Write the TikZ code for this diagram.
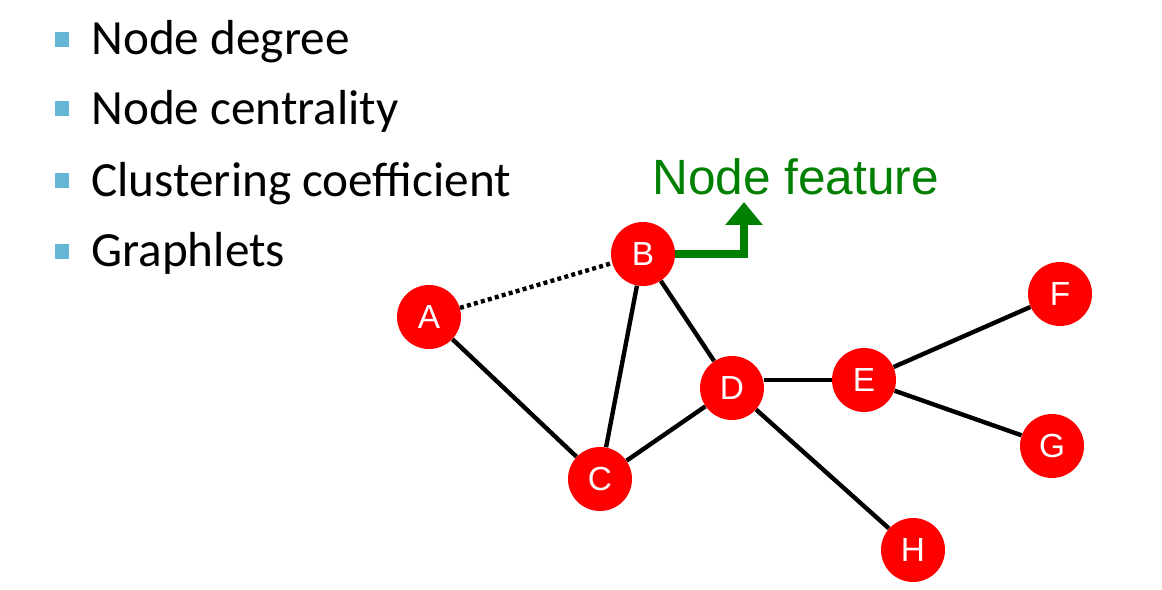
\documentclass[tikz,border=0pt]{standalone}
\usepackage{fontspec}
\setmainfont{Liberation Sans}
\newfontfamily\bulletfont{Carlito}
\usetikzlibrary{arrows.meta,positioning}

\begin{document}
\begin{tikzpicture}[x=0.02cm,y=-0.02cm,
  vertex/.style={circle,fill=red,draw=none,minimum size=1.28cm,inner sep=0pt,text=white,font=\fontsize{19}{19}\selectfont},
  edge/.style={line width=2.5pt,black},
  bul/.style={fill=cyan!55!teal!70,minimum size=0.3cm,inner sep=0pt},
  item/.style={anchor=base west,inner sep=0pt,font=\bulletfont\fontsize{28}{28}\selectfont}]
\useasboundingbox (0,0) rectangle (1162,590);
% bullet list
\node[bul] (b1) at (62,40) {};
\node[bul] (b2) at (62,109) {};
\node[bul] (b3) at (62,181) {};
\node[bul] (b4) at (62,252) {};
\node[item] (t1) at (91,55) {Node degree};
\node[item] (t2) at (91,125) {Node centrality};
\node[item] (t3) at (91,197) {Clustering coefficient};
\node[item] (t4) at (91,267) {Graphlets};
% graph
\node[vertex] (A) at (429,317) {A};
\node[vertex] (B) at (643,254) {B};
\node[vertex] (C) at (600,479) {C};
\node[vertex] (D) at (732,388) {D};
\node[vertex] (E) at (864,380) {E};
\node[vertex] (F) at (1060,294) {F};
\node[vertex] (G) at (1052,446) {G};
\node[vertex] (H) at (913,550) {H};
\draw[edge,dash pattern=on 0.08cm off 0.065cm] (A) -- (B);
\draw[edge] (A) -- (C);
\draw[edge] (B) -- (C);
\draw[edge] (B) -- (D);
\draw[edge] (C) -- (D);
\draw[edge] (E.west) -- (E.west -| D.east);
\draw[edge] (D) -- (H);
\draw[edge] (E) -- (F);
\draw[edge] (E) -- (G);
% feature label
\node[anchor=base west,inner sep=0pt,text={rgb,255:red,0;green,128;blue,0},font=\fontsize{28.2}{28}\selectfont] (feat) at (652,195) {Node feature};
\coordinate (tip) at (744,202);
\draw[line width=0.16cm,draw={rgb,255:red,0;green,128;blue,0},-{Triangle[width=0.72cm,length=0.46cm]}] (B.east) -| (tip);
\end{tikzpicture}
\end{document}
